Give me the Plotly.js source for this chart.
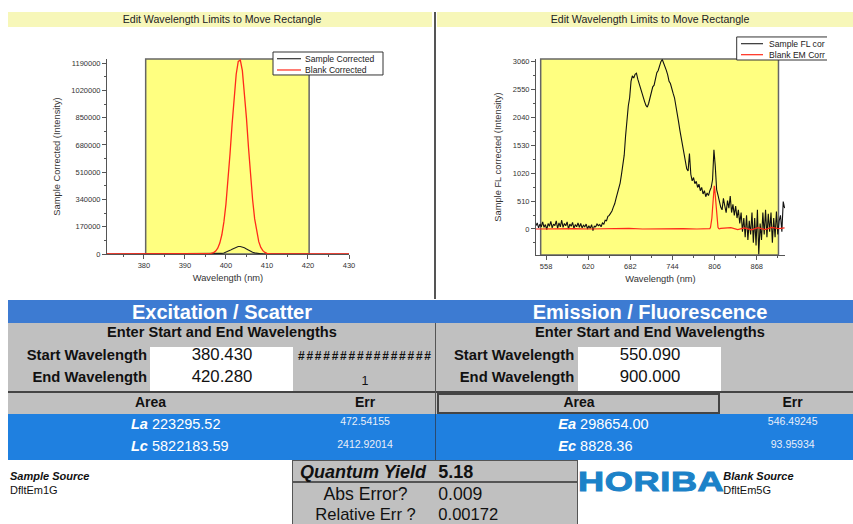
<!DOCTYPE html>
<html><head><meta charset="utf-8">
<script src="https://cdn.plot.ly/plotly-3.0.1.min.js"></script>
<style>
body{margin:0;background:#fff;}
#page{position:relative;width:853px;height:524px;overflow:hidden;font-family:"Liberation Sans",Arial,sans-serif;background:#fff;}
.abs{position:absolute;}
.t{position:absolute;white-space:nowrap;line-height:1;}
</style></head><body>
<div id="page">
 <div class="abs" style="left:8px;top:12px;width:424px;height:15px;background:#f7f7b9"></div>
 <div class="abs" style="left:437px;top:12px;width:416px;height:15px;background:#f7f7b9"></div>
 <div class="abs" style="left:434px;top:12px;width:2px;height:287px;background:#555"></div>
 <div id="exChart" class="abs" style="left:8px;top:12px;width:424px;height:286px"></div>
 <div id="emChart" class="abs" style="left:437px;top:12px;width:390px;height:286px;overflow:hidden"></div>
</div>
<script>
// ---------- Excitation / Scatter data ----------
const exWavelength = [371,375,380,385,390,393,395,396,397,397.5,398,398.5,399,399.5,400,400.5,401,401.5,402,402.5,403,403.5,404,404.5,405,405.5,406,406.5,407,407.5,408,408.5,409,409.5,410,411,412,414,417,420,425,430];
const exSampleCorrected = [0,0,0,0,0,0,20,60,190,450,960,1900,3600,6360,10400,15900,22600,30000,37200,43000,46400,46700,43900,38500,31500,24000,17100,11400,7060,4080,2200,1110,520,230,95,10,0,0,0,0,0,0];
const exBlankCorrected = [0,0,0,0,0,0,200,1500,8500,18000,36000,68000,120000,200000,311000,456000,627000,810000,984000,1121000,1201000,1209000,1143000,1015000,847000,663000,488000,338000,219000,134000,77000,41000,21000,10000,4400,700,100,0,0,0,0,0];
const exLimits = [380.43, 420.28];

// ---------- Emission / Fluorescence data ----------
const emWavelength = [543,545,547,549,551,553,555,557,559,561,563,565,567,569,571,573,575,577,579,581,583,585,587,589,591,593,595,597,599,601,603,605,607,609,611,613,615,617,619,621,623,625,627,629,631,633,635,637,639,641,643,645,647,649,651,653,655,657,659,661,663,665,667,669,671,673,675,677,679,681,683,685,687,689,691,693,695,697,699,701,703,705,707,709,711,713,715,717,719,721,723,725,727,729,731,733,735,737,739,741,743,745,747,749,751,753,755,757,759,761,763,765,767,769,771,773,775,777,779,781,783,785,787,789,791,793,795,797,799,801,803,805,807,809,811,813,815,817,819,821,823,825,827,829,831,833,835,837,839,841,843,845,847,849,851,853,855,857,859,861,863,865,867,869,871,873,875,877,879,881,883,885,887,889,891,893,895,897,899,901,903,905,907,909];
const emSampleFL = [60,110,20,90,40,130,30,80,-10,100,50,140,20,90,60,150,10,110,40,160,30,100,60,130,0,90,50,120,10,80,40,110,30,100,20,70,40,90,0,60,10,80,-30,50,40,90,60,80,40,110,90,160,150,230,250,290,330,400,460,560,650,740,840,1000,1150,1350,1700,2080,2250,2400,2700,2800,2760,2830,2850,2740,2650,2600,2480,2400,2330,2260,2230,2300,2420,2540,2600,2630,2750,2860,2900,3000,3060,3100,3040,2960,2900,2820,2700,2660,2540,2480,2400,2220,2130,1960,1800,1650,1500,1350,1230,1100,1060,1380,1000,880,940,830,870,760,820,700,760,640,700,590,660,610,700,760,900,1450,1150,720,620,480,400,350,560,420,300,520,380,600,300,450,250,420,200,350,100,300,-50,200,-150,250,-200,150,-100,300,-250,200,-300,350,-460,100,-200,300,-100,350,-150,280,-50,300,-250,200,-150,320,-100,150,250,-50,500,380];
const emBlankX = [543,560,580,600,620,640,660,680,700,720,740,760,780,790,796,798,799,800,801,802,803,804,805,805.5,806,807,808,809,810,811,812,813,815,820,830,840,850,860,870,880,890,900,909];
const emBlankEM = [0,5,0,8,0,5,0,10,0,5,0,8,0,5,2,3,8,30,85,200,380,590,760,790,760,590,380,200,85,30,8,3,10,15,25,-10,20,-15,25,-10,30,5,20];
const emLimits = [550.09, 900.0];

// ---------- table values ----------
const exTitle = 'Excitation / Scatter', emTitle = 'Emission / Fluorescence';
const exStartEnd = ['380.430', '420.280'];
const emStartEnd = ['550.090', '900.000'];
const exAreas = [['La','223295.52','472.54155'],['Lc','5822183.59','2412.92014']];
const emAreas = [['Ea','298654.00','546.49245'],['Ec','8828.36','93.95934']];
const qy = {value:'5.18', abs:'0.009', rel:'0.00172'};
const sources = {sample:'DfltEm1G', blank:'DfltEm5G'};

const FONT = 'Liberation Sans, Arial, sans-serif';
const axisCommon = {
  showline:true, linecolor:'#555', linewidth:1, mirror:false,
  ticks:'outside', ticklen:4, tickcolor:'#555', tickwidth:1,
  tickfont:{family:FONT, size:7.5, color:'#333'},
  showgrid:false, zeroline:false, fixedrange:true
};
function legendParts(x0, y0, x1, y1, names, lx0, lx1, tx, ys){
  const shapes = [{type:'rect', xref:'paper', yref:'paper', x0:x0, x1:x1, y0:y0, y1:y1,
     fillcolor:'#fff', line:{color:'#333', width:1}, layer:'above'}];
  const ann = [];
  const cols = ['#333', '#ff2a1a'];
  names.forEach((n,i)=>{
    shapes.push({type:'line', xref:'paper', yref:'paper', x0:lx0, x1:lx1, y0:ys[i], y1:ys[i], line:{color:cols[i], width:1.2}, layer:'above'});
    ann.push({xref:'paper', yref:'paper', x:tx, y:ys[i], text:n, showarrow:false, xanchor:'left', yanchor:'middle',
       font:{family:FONT, size:8.6, color:'#222'}});
  });
  return {shapes, ann};
}

// ---------- left chart ----------
(function(){
  const W=424,H=286, l=99, r=83, t=47, b=43.7;
  const pw=W-l-r, ph=H-t-b;
  const px = x => (x-8-l)/pw, py = y => (H-b-(y-12))/ph;
  const leg = legendParts(px(273), py(75), px(383), py(52), ['Sample Corrected','Blank Corrected'], px(277), px(301), px(303), [py(58.7), py(70)]);
  const traces = [
    {x:exWavelength, y:exSampleCorrected, type:'scatter', mode:'lines', name:'Sample Corrected', line:{color:'#222', width:1.1}},
    {x:exWavelength, y:exBlankCorrected, type:'scatter', mode:'lines', name:'Blank Corrected', line:{color:'#ff2a1a', width:1.3}}
  ];
  const layout = {
    width:W, height:H, margin:{l:l, r:r, t:t, b:b, autoexpand:false},
    paper_bgcolor:'rgba(0,0,0,0)', plot_bgcolor:'rgba(0,0,0,0)', showlegend:false,
    title:{text:'Edit Wavelength Limits to Move Rectangle', font:{family:FONT, size:10.6, color:'#222'},
      xref:'container', yref:'container', x:214/W, xanchor:'center', y:1-7.5/H, yanchor:'middle'},
    xaxis:Object.assign({}, axisCommon, {range:[371,430], tickmode:'linear', tick0:380, dtick:10,
      minor:{tickmode:'linear', tick0:380, dtick:5, ticks:'outside', ticklen:2, tickcolor:'#555'},
      title:{text:'Wavelength (nm)', font:{family:FONT, size:9.3, color:'#333'}, standoff:5}}),
    yaxis:Object.assign({}, axisCommon, {range:[0,1216000], tickmode:'linear', tick0:0, dtick:170000, tickformat:'d',
      minor:{tickmode:'linear', tick0:0, dtick:85000, ticks:'outside', ticklen:2, tickcolor:'#555'},
      title:{text:'Sample Corrected (Intensity)', font:{family:FONT, size:9.3, color:'#333'}, standoff:9}}),
    shapes:[{type:'rect', xref:'x', yref:'paper', x0:exLimits[0], x1:exLimits[1], y0:0, y1:1,
      fillcolor:'#ffff80', line:{color:'#666', width:1.5}, layer:'below'}].concat(leg.shapes),
    annotations:leg.ann
  };
  Plotly.newPlot('exChart', traces, layout, {displayModeBar:false, staticPlot:true});
})();

// ---------- right chart ----------
(function(){
  const W=390,H=286, l=99, r=42, t=47, b=43.3;
  const pw=W-l-r, ph=H-t-b;
  const px = x => (x-437-l)/pw, py = y => (H-b-(y-12))/ph;
  const leg = legendParts(px(736.7), py(60), px(870), py(37), ['Sample FL cor','Blank EM Corr'], px(741), px(763), px(766.5), [py(43.7), py(54.7)]);
  const traces = [
    {x:emWavelength, y:emSampleFL, type:'scatter', mode:'lines', name:'Sample FL corrected', line:{color:'#111', width:1.1}},
    {x:emBlankX, y:emBlankEM, type:'scatter', mode:'lines', name:'Blank EM Corrected', line:{color:'#ff2a1a', width:1.2}}
  ];
  const layout = {
    width:W, height:H, margin:{l:l, r:r, t:t, b:b, autoexpand:false},
    paper_bgcolor:'rgba(0,0,0,0)', plot_bgcolor:'rgba(0,0,0,0)', showlegend:false,
    title:{text:'Edit Wavelength Limits to Move Rectangle', font:{family:FONT, size:10.6, color:'#222'},
      xref:'container', yref:'container', x:(650-437)/W, xanchor:'center', y:1-7.5/H, yanchor:'middle'},
    xaxis:Object.assign({}, axisCommon, {range:[543.2,909.6], tickmode:'linear', tick0:558, dtick:62,
      minor:{tickmode:'linear', tick0:558, dtick:31, ticks:'outside', ticklen:2, tickcolor:'#555'},
      title:{text:'Wavelength (nm)', font:{family:FONT, size:9.3, color:'#333'}, standoff:5}}),
    yaxis:Object.assign({}, axisCommon, {range:[-476,3109], tickmode:'linear', tick0:0, dtick:510, tickformat:'d',
      minor:{tickmode:'linear', tick0:0, dtick:255, ticks:'outside', ticklen:2, tickcolor:'#555'},
      title:{text:'Sample FL corrected (Intensity)', font:{family:FONT, size:9.3, color:'#333'}, standoff:9}}),
    shapes:[{type:'rect', xref:'x', yref:'paper', x0:emLimits[0], x1:emLimits[1], y0:0, y1:1,
      fillcolor:'#ffff80', line:{color:'#666', width:1.5}, layer:'below'}].concat(leg.shapes),
    annotations:leg.ann
  };
  Plotly.newPlot('emChart', traces, layout, {displayModeBar:false, staticPlot:true});
})();

// ---------- table (spreadsheet panel) ----------
const page = document.getElementById('page');
function box(x0,y0,x1,y1,style){
  const d=document.createElement('div'); d.className='abs';
  d.style.left=x0+'px'; d.style.top=y0+'px'; d.style.width=(x1-x0)+'px'; d.style.height=(y1-y0)+'px';
  Object.assign(d.style, style||{}); page.appendChild(d); return d;
}
function txt(html, x, cy, size, o){
  o=o||{};
  const d=document.createElement('div'); d.className='t';
  d.innerHTML=html; d.style.fontSize=size+'px'; d.style.top=(cy-size*0.5)+'px';
  d.style.color=o.color||'#111';
  if(o.bold) d.style.fontWeight='bold';
  if(o.italic) d.style.fontStyle='italic';
  const a=o.anchor||'l';
  if(a==='l'){ d.style.left=x+'px'; }
  else if(a==='c'){ d.style.left=(x-250)+'px'; d.style.width='500px'; d.style.textAlign='center'; }
  else { d.style.left=(x-500)+'px'; d.style.width='500px'; d.style.textAlign='right'; }
  if(o.style) Object.assign(d.style,o.style);
  page.appendChild(d); return d;
}
box(8,300,853,323,{background:'#3d7bd2'});
box(8,323,853,414,{background:'#c0c0c0'});
box(150,347,293,391,{background:'#fff'});
box(578,347,721,391,{background:'#fff'});
box(8,391,853,392.5,{background:'#444'});
box(434.5,323,436,414,{background:'#555'});
box(436.5,392.5,719.5,413.5,{border:'2px solid #444', boxSizing:'border-box'});
box(8,414,853,460,{background:'#1f80e0'});
box(434.5,414,436,460,{background:'#2a4a70'});
box(292,460,578,540,{background:'#c0c0c0', border:'1.5px solid #555', boxSizing:'border-box'});
box(292,481,578,482.5,{background:'#555'});

txt(exTitle, 222, 311.7, 20, {anchor:'c', bold:true, color:'#fff'});
txt(emTitle, 650, 311.7, 20, {anchor:'c', bold:true, color:'#fff'});
txt('Enter Start and End Wavelengths', 222, 332.7, 14.6, {anchor:'c', bold:true});
txt('Enter Start and End Wavelengths', 650, 332.7, 14.6, {anchor:'c', bold:true});
txt('Start Wavelength', 147, 355.7, 14.8, {anchor:'r', bold:true});
txt('End Wavelength', 147, 377.7, 14.8, {anchor:'r', bold:true});
txt('Start Wavelength', 574.3, 355.7, 14.8, {anchor:'r', bold:true});
txt('End Wavelength', 574.3, 377.7, 14.8, {anchor:'r', bold:true});
txt(exStartEnd[0], 222, 355.7, 16.8, {anchor:'c'});
txt(exStartEnd[1], 222, 377.7, 16.8, {anchor:'c'});
txt(emStartEnd[0], 650, 355.7, 16.8, {anchor:'c'});
txt(emStartEnd[1], 650, 377.7, 16.8, {anchor:'c'});
txt('################', 298, 355.7, 12, {bold:true, style:{letterSpacing:'1.75px'}});
txt('1', 365, 381.7, 12.5, {anchor:'c'});
txt('Area', 150.5, 402.3, 14, {anchor:'c', bold:true});
txt('Err', 365, 402.3, 14, {anchor:'c', bold:true});
txt('Area', 579, 402.3, 14, {anchor:'c', bold:true});
txt('Err', 792.5, 402.3, 14, {anchor:'c', bold:true});
exAreas.forEach((r,i)=>{
  const cy=[424,446.7][i], ce=[421.7,444][i];
  txt('<b><i>'+r[0]+'</i></b> '+r[1], 131, cy, 14.5, {color:'#fff'});
  txt(r[2], 365, ce, 10.5, {anchor:'c', color:'#e8eef8'});
});
emAreas.forEach((r,i)=>{
  const cy=[424,446.7][i], ce=[421.7,444][i];
  txt('<b><i>'+r[0]+'</i></b> '+r[1], 558.3, cy, 14.5, {color:'#fff'});
  txt(r[2], 792.7, ce, 10.5, {anchor:'c', color:'#e8eef8'});
});
txt('Sample Source', 10, 476.7, 11, {bold:true, italic:true});
txt(sources.sample, 10, 490, 11);
txt('Blank Source', 723.3, 476.3, 11, {bold:true, italic:true});
txt(sources.blank, 723.3, 490, 11);
txt('Quantum Yield', 300, 471.7, 18, {bold:true, italic:true});
txt(qy.value, 438.3, 471.7, 18, {bold:true});
txt('Abs Error?', 365.5, 495.2, 17.6, {anchor:'c'});
txt(qy.abs, 438.3, 495.2, 17.6);
txt('Relative Err ?', 365.5, 514.8, 16.6, {anchor:'c'});
txt(qy.rel, 438.3, 514.8, 16.6);
txt('HORIBA', 578, 482, 28, {bold:true, color:'#1c82c8', style:{transformOrigin:'0 50%', transform:'scaleX(1.29)', webkitTextStroke:'1px #1c82c8', letterSpacing:'0.5px'}});
</script>
</body></html>
